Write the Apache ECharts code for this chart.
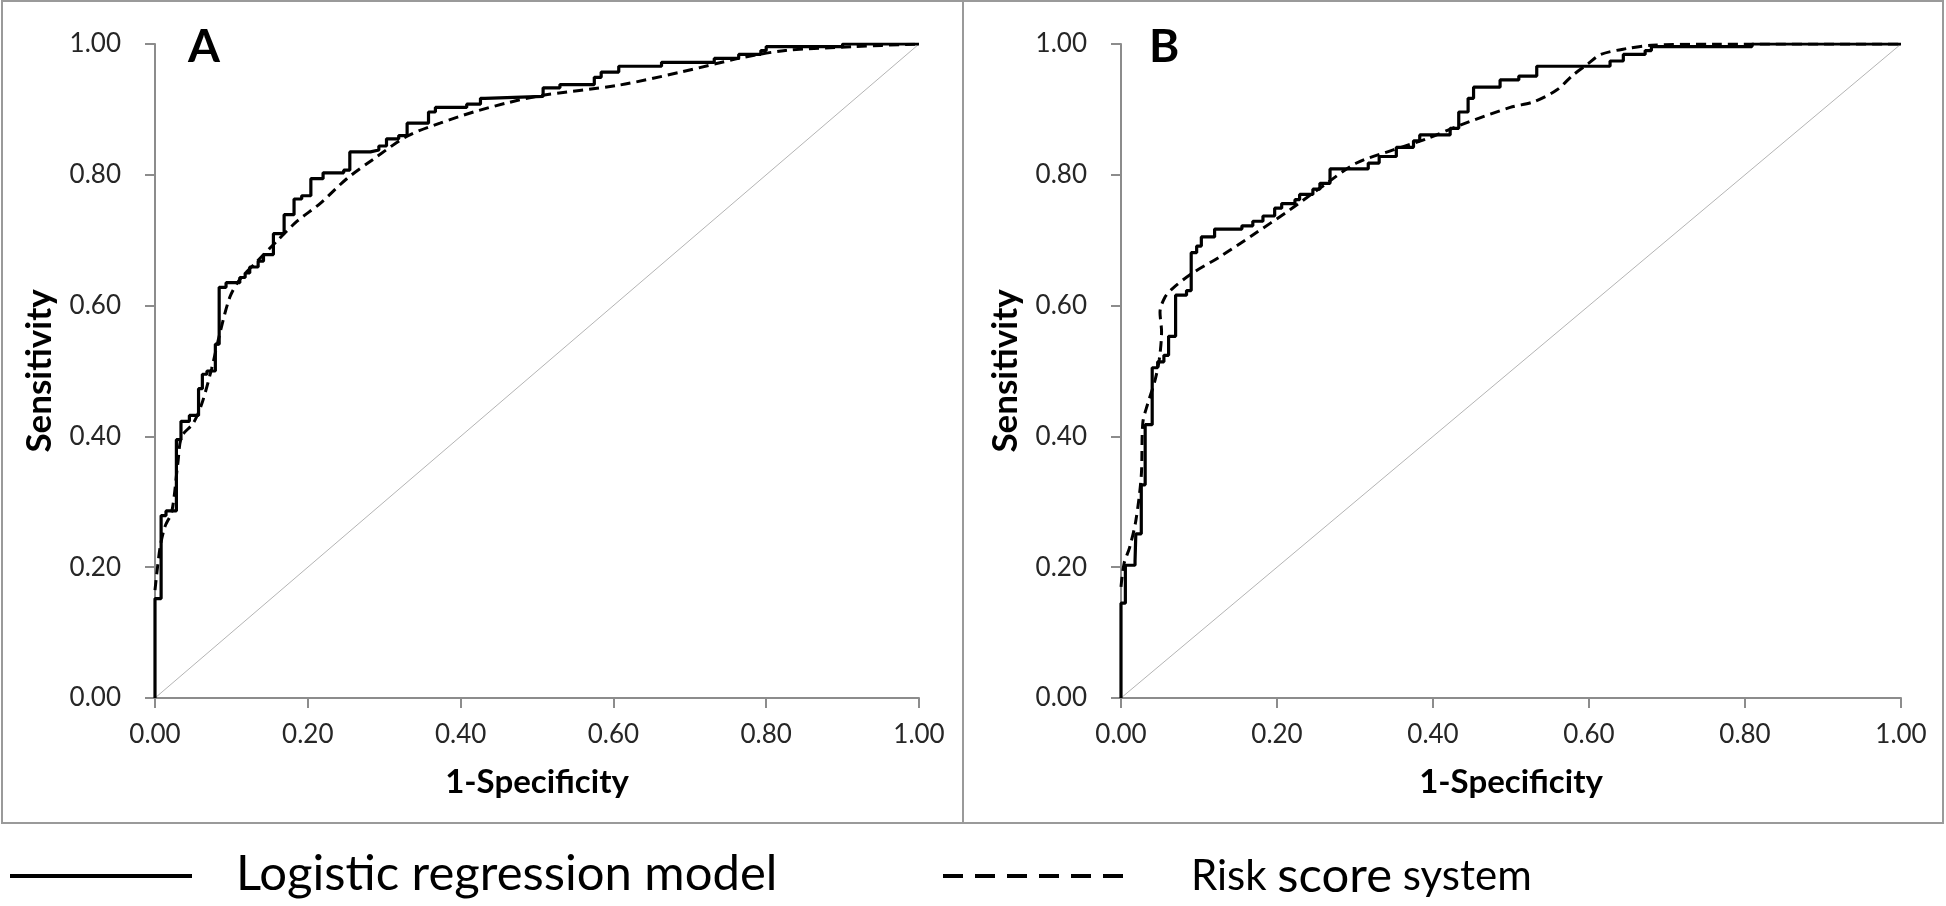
<!DOCTYPE html>
<html><head><meta charset="utf-8">
<script src="https://cdn.jsdelivr.net/npm/echarts@6/dist/echarts.min.js"></script>
<style>html,body{margin:0;padding:0;background:#fff}#c{width:1946px;height:906px}</style>
</head><body><div id="c"></div>
<script>
// ---- data ----
const tickValues = [0, 0.2, 0.4, 0.6, 0.8, 1.0];
const seriesNames = ['Logistic regression model', 'Risk score system'];
const panelLabels = ['A', 'B'];
const xTitle = '1-Specificity';
const yTitle = 'Sensitivity';
const referenceLine = [[0, 0], [1, 1]];

// Panel A: logistic regression model (empirical ROC steps) [1-specificity, sensitivity]
const logisticA = [[0,0],[0,0.152],[0.008,0.279],[0.0144,0.286],[0.028,0.395],[0.034,0.423],[0.045,0.432],[0.057,0.473],[0.062,0.495],[0.068,0.5],[0.079,0.541],[0.084,0.628],[0.093,0.635],[0.111,0.643],[0.118,0.65],[0.124,0.659],[0.135,0.668],[0.142,0.678],[0.155,0.71],[0.169,0.739],[0.182,0.763],[0.192,0.768],[0.204,0.794],[0.22,0.803],[0.247,0.807],[0.255,0.835],[0.282,0.838],[0.293,0.844],[0.303,0.855],[0.319,0.86],[0.33,0.879],[0.358,0.896],[0.367,0.903],[0.408,0.908],[0.426,0.917],[0.432,0.92],[0.508,0.933],[0.53,0.938],[0.575,0.949],[0.584,0.957],[0.607,0.966],[0.663,0.972],[0.732,0.978],[0.764,0.984],[0.793,0.99],[0.80,0.996],[0.90,1.0],[1.0,1.0]];
// Panel A: risk score system (smooth)
const riskA = [[0,0.165],[0.0066,0.23],[0.013,0.262],[0.022,0.285],[0.03,0.36],[0.035,0.40],[0.05,0.42],[0.061,0.449],[0.074,0.503],[0.085,0.558],[0.098,0.613],[0.111,0.64],[0.133,0.667],[0.159,0.698],[0.186,0.729],[0.216,0.756],[0.251,0.794],[0.286,0.824],[0.33,0.859],[0.373,0.879],[0.417,0.896],[0.461,0.91],[0.504,0.921],[0.607,0.937],[0.688,0.957],[0.768,0.979],[0.825,0.99],[0.914,0.996],[1,1]];
// Panel B: logistic regression model
const logisticB = [[0,0],[0,0.145],[0.0056,0.203],[0.018,0.21],[0.019,0.251],[0.026,0.326],[0.031,0.418],[0.040,0.505],[0.047,0.514],[0.055,0.524],[0.061,0.553],[0.070,0.616],[0.084,0.623],[0.09,0.681],[0.097,0.691],[0.103,0.705],[0.12,0.717],[0.155,0.722],[0.169,0.729],[0.182,0.737],[0.197,0.749],[0.206,0.756],[0.223,0.762],[0.229,0.77],[0.246,0.778],[0.255,0.787],[0.268,0.809],[0.317,0.818],[0.331,0.828],[0.353,0.842],[0.375,0.852],[0.383,0.861],[0.422,0.871],[0.433,0.896],[0.445,0.917],[0.452,0.934],[0.486,0.945],[0.51,0.951],[0.533,0.966],[0.627,0.974],[0.644,0.984],[0.672,0.99],[0.68,0.996],[0.809,1.0],[1,1]];
// Panel B: risk score system
const riskB = [[0,0.17],[0.004,0.206],[0.011,0.23],[0.019,0.271],[0.026,0.34],[0.028,0.421],[0.034,0.449],[0.043,0.483],[0.049,0.517],[0.052,0.56],[0.05,0.59],[0.056,0.612],[0.066,0.626],[0.092,0.65],[0.126,0.674],[0.169,0.708],[0.216,0.746],[0.259,0.783],[0.302,0.818],[0.349,0.838],[0.392,0.855],[0.435,0.876],[0.499,0.903],[0.53,0.912],[0.559,0.93],[0.579,0.952],[0.599,0.97],[0.615,0.984],[0.648,0.993],[0.68,0.998],[0.76,1.0],[1,1]];

// ---- chart ----
const FONT = 'Lato';
const axisGray = '#8c8c8c';
const grids = [
  {left: 155, top: 44, width: 764, height: 654},
  {left: 1121, top: 44, width: 780, height: 654}
];
function axisCommon(isX, gi) {
  return {
    type: 'value', gridIndex: gi, min: 0, max: 1, interval: 0.2,
    splitLine: {show: false},
    axisLine: {show: true, onZero: false, lineStyle: {color: axisGray, width: 2}},
    axisTick: {show: true, inside: false, length: 10, lineStyle: {color: axisGray, width: 2}},
    axisLabel: {fontFamily: FONT, fontSize: 26, color: '#262626', margin: isX ? 24 : 34,
      formatter: v => v.toFixed(2)},
    name: isX ? xTitle : yTitle,
    nameLocation: 'middle',
    nameGap: isX ? 68 : 98,
    nameTextStyle: {fontFamily: FONT, fontSize: isX ? 33 : 35, fontWeight: 'bold', color: '#000'}
  };
}
const xAxes = [axisCommon(true, 0), axisCommon(true, 1)];
const yAxes = [axisCommon(false, 0), axisCommon(false, 1)];

const panels = [[logisticA, riskA], [logisticB, riskB]];
const series = [];
panels.forEach((p, i) => {
  series.push({type: 'line', name: 'ref', xAxisIndex: i, yAxisIndex: i, data: referenceLine,
    symbol: 'none', silent: true, lineStyle: {color: '#b4b4b4', width: 1}, z: 1});
  series.push({type: 'line', name: seriesNames[1], xAxisIndex: i, yAxisIndex: i, data: p[1],
    symbol: 'none', smooth: 0.3, lineStyle: {color: '#000', width: 3, type: [10, 6]}, z: 2});
  series.push({type: 'line', name: seriesNames[0], xAxisIndex: i, yAxisIndex: i, data: p[0],
    symbol: 'none', step: 'end', lineStyle: {color: '#000', width: 3.2}, z: 3});
});

const graphic = [
  {type: 'rect', shape: {x: 2, y: 1, width: 961, height: 822}, style: {fill: 'none', stroke: '#9a9a9a', lineWidth: 2}},
  {type: 'rect', shape: {x: 963, y: 1, width: 980, height: 822}, style: {fill: 'none', stroke: '#9a9a9a', lineWidth: 2}},
  {type: 'text', x: 188, y: 24, style: {text: panelLabels[0], fontFamily: FONT, fontWeight: 'bold', fontSize: 46, fill: '#000'}},
  {type: 'text', x: 1149, y: 24, style: {text: panelLabels[1], fontFamily: FONT, fontWeight: 'bold', fontSize: 46, fill: '#000'}},
  {type: 'line', shape: {x1: 10, y1: 876, x2: 192, y2: 876}, style: {stroke: '#000', lineWidth: 4}},
  {type: 'text', x: 236, y: 874, style: {text: seriesNames[0], fontFamily: FONT, fontSize: 49, fill: '#000', verticalAlign: 'middle'}},
  {type: 'line', shape: {x1: 943, y1: 876, x2: 1123, y2: 876}, style: {stroke: '#000', lineWidth: 4, lineDash: [20, 12]}},
  {type: 'text', x: 1191, y: 876, style: {
    text: '{s|Risk }{b|score}{s| system}', fontFamily: FONT, fill: '#000', verticalAlign: 'middle',
    rich: {s: {fontFamily: FONT, fontSize: 42, fill: '#000'}, b: {fontFamily: FONT, fontSize: 49, fill: '#000'}}
  }}
];

const chart = echarts.init(document.getElementById('c'), null, {renderer: 'canvas'});
chart.setOption({
  animation: false,
  backgroundColor: '#fff',
  grid: grids,
  xAxis: xAxes,
  yAxis: yAxes,
  series: series,
  graphic: graphic
});
</script></body></html>
